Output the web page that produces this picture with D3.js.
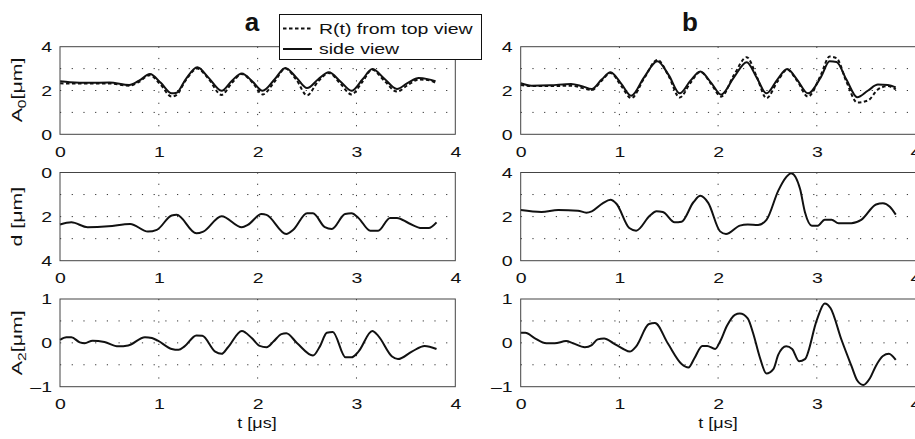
<!DOCTYPE html>
<html>
<head>
<meta charset="utf-8">
<script src="https://cdn.jsdelivr.net/npm/d3@7"></script>
<style>
  body { margin: 0; background: #fff; }
  text { font-family: "Liberation Sans", Arial, sans-serif; fill: #111; }
</style>
</head>
<body>
<script>
/* time axis ticks */
const xTicks = [0, 1, 2, 3, 4];
const xGrid = [1, 2, 3];

/* panel a, A0 : side view (solid) and R(t) from top view (dashed) */
const tA0a = [0, 0.1, 0.3, 0.5, 0.7, 0.8, 0.91, 1.02, 1.13, 1.18, 1.27, 1.39, 1.5, 1.635, 1.74, 1.84, 1.95, 2.05, 2.17, 2.28,
  2.39, 2.5, 2.61, 2.72, 2.84, 2.95, 3.06, 3.16, 3.28, 3.41, 3.52, 3.63, 3.72, 3.8];
const sideA0a = [2.42, 2.38, 2.35, 2.36, 2.25, 2.45, 2.75, 2.35, 1.87, 1.9, 2.5, 3.06, 2.6, 1.99, 2.45, 2.78, 2.4, 1.99, 2.5, 3.03,
  2.6, 2.11, 2.5, 2.83, 2.4, 1.99, 2.5, 2.98, 2.55, 2.07, 2.35, 2.57, 2.52, 2.42];
const topA0a = [2.33, 2.32, 2.32, 2.32, 2.22, 2.4, 2.7, 2.25, 1.72, 1.8, 2.45, 3.0, 2.55, 1.8, 2.35, 2.75, 2.35, 1.82, 2.4, 3.0,
  2.5, 1.78, 2.4, 2.8, 2.3, 1.82, 2.4, 2.95, 2.45, 1.95, 2.25, 2.5, 2.48, 2.35];

/* panel b, A0 */
const tA0b = [0, 0.11, 0.3, 0.51, 0.62, 0.72, 0.82, 0.91, 1.02, 1.12, 1.25, 1.385, 1.5, 1.61, 1.72, 1.82, 1.93, 2.03, 2.16, 2.29,
  2.39, 2.49, 2.6, 2.7, 2.8, 2.91, 3.04, 3.13, 3.2, 3.3, 3.41, 3.52, 3.62, 3.72, 3.8];
const sideA0b = [2.33, 2.22, 2.24, 2.3, 2.2, 2.07, 2.5, 2.83, 2.3, 1.76, 2.6, 3.33, 2.7, 1.87, 2.45, 2.87, 2.35, 1.81, 2.6, 3.29,
  2.6, 1.87, 2.5, 2.98, 2.5, 1.87, 2.6, 3.33, 3.3, 2.5, 1.69, 2.0, 2.27, 2.25, 2.14];
const topA0b = [2.25, 2.2, 2.2, 2.22, 2.12, 2.02, 2.45, 2.8, 2.2, 1.65, 2.55, 3.4, 2.65, 1.68, 2.35, 2.85, 2.3, 1.72, 2.7, 3.52,
  2.65, 1.65, 2.4, 2.95, 2.45, 1.72, 2.7, 3.55, 3.48, 2.4, 1.45, 1.55, 2.05, 2.2, 2.05];

/* panel a, d */
const tDa = [0, 0.115, 0.28, 0.49, 0.71, 0.89, 0.98, 1.13, 1.18, 1.38, 1.45, 1.635, 1.84, 1.9, 2.04, 2.09, 2.29, 2.36, 2.5, 2.56,
  2.68, 2.75, 2.885, 2.95, 3.02, 3.14, 3.22, 3.34, 3.41, 3.53, 3.66, 3.73, 3.81];
const dA = [2.36, 2.26, 2.48, 2.44, 2.33, 2.68, 2.6, 1.95, 1.92, 2.76, 2.68, 1.98, 2.48, 2.38, 1.88, 1.92, 2.79, 2.6, 1.85, 1.85,
  2.48, 2.56, 1.88, 1.85, 2.06, 2.64, 2.64, 2.06, 2.06, 2.3, 2.52, 2.52, 2.26];

/* panel b, d */
const tDb = [0, 0.21, 0.38, 0.58, 0.665, 0.72, 0.83, 0.91, 0.97, 1.1, 1.17, 1.31, 1.375, 1.44, 1.56, 1.63, 1.75, 1.82, 1.9, 2.02,
  2.08, 2.22, 2.3, 2.405, 2.49, 2.61, 2.69, 2.74, 2.83, 2.88, 2.95, 3.01, 3.08, 3.15, 3.22, 3.35, 3.45, 3.6, 3.67, 3.74, 3.8];
const dB = [2.3, 2.21, 2.3, 2.27, 2.18, 2.24, 2.6, 2.76, 2.58, 1.48, 1.36, 2.05, 2.24, 2.21, 1.74, 1.77, 2.65, 2.94, 2.62, 1.33,
  1.21, 1.59, 1.64, 1.62, 1.85, 3.18, 3.79, 3.97, 3.26, 2.2, 1.59, 1.59, 1.86, 1.86, 1.7, 1.7, 1.85, 2.55, 2.61, 2.45, 2.09];

/* panel a, A2 */
const tA2a = [0, 0.065, 0.115, 0.2, 0.25, 0.33, 0.45, 0.59, 0.69, 0.86, 0.93, 0.99, 1.13, 1.2, 1.26, 1.38, 1.44, 1.57, 1.635, 1.7,
  1.84, 1.94, 2.02, 2.09, 2.16, 2.24, 2.29, 2.4, 2.56, 2.63, 2.7, 2.76, 2.89, 2.95, 3.02, 3.16, 3.22, 3.36, 3.42, 3.56, 3.69, 3.81];
const a2A = [0.07, 0.13, 0.13, 0.01, -0.01, 0.05, 0.02, -0.08, -0.06, 0.13, 0.11, 0.05, -0.14, -0.16, -0.08, 0.17, 0.16, -0.2, -0.25, -0.1,
  0.27, 0.11, -0.07, -0.1, 0.03, 0.2, 0.22, -0.01, -0.29, -0.08, 0.23, 0.25, -0.33, -0.33, -0.2, 0.27, 0.16, -0.31, -0.37, -0.2, -0.07, -0.14];

/* panel b, A2 */
const tA2b = [0, 0.047, 0.14, 0.26, 0.345, 0.46, 0.53, 0.65, 0.72, 0.78, 0.845, 0.94, 1.04, 1.105, 1.17, 1.3, 1.36, 1.49, 1.63, 1.7,
  1.76, 1.84, 1.89, 1.97, 2.02, 2.09, 2.17, 2.22, 2.3, 2.355, 2.42, 2.49, 2.56, 2.61, 2.69, 2.75, 2.82, 2.88, 3.0, 3.08, 3.14,
  3.25, 3.35, 3.41, 3.47, 3.54, 3.6, 3.67, 3.73, 3.8];
const a2B = [0.23, 0.23, 0.11, -0.01, -0.01, 0.04, -0.01, -0.1, -0.05, 0.08, 0.1, -0.01, -0.14, -0.2, -0.08, 0.43, 0.45, -0.01, -0.48, -0.56,
  -0.35, -0.07, -0.07, -0.14, 0.03, 0.39, 0.64, 0.67, 0.56, 0.22, -0.31, -0.7, -0.6, -0.27, -0.08, -0.14, -0.42, -0.37, 0.52, 0.9, 0.79,
  0.07, -0.52, -0.86, -0.96, -0.8, -0.52, -0.3, -0.25, -0.39];

const width = 915, height = 439;
const cols = [{x0: 60, x1: 455.3}, {x0: 520.7, x1: 915.5}];
const rows = [{y0: 46.7, y1: 134.3}, {y0: 172.5, y1: 260.7}, {y0: 299, y1: 386.7}];
// the original lettering is drawn wide, so text is stretched along its baseline
const stretch = 1.3;

const svg = d3.select("body").append("svg")
  .attr("width", width)
  .attr("height", height);

const fmt = d => d < 0 ? "\u2013" + Math.abs(d) : String(d);

// move axis-made x/y into a transform so the text can be stretched
function widen(sel, sx) {
  sel.each(function() {
    const t = d3.select(this);
    const x = +t.attr("x") || 0, y = +t.attr("y") || 0;
    t.attr("x", null).attr("y", null)
      .attr("transform", "translate(" + x + "," + y + ") scale(" + sx + ",1)");
  });
}

function drawPanel(col, row, domain, ticks, grid, series) {
  const c = cols[col], r = rows[row];
  const x = d3.scaleLinear().domain([0, 4]).range([c.x0, c.x1]);
  const y = d3.scaleLinear().domain(domain).range([r.y1, r.y0]);
  const g = svg.append("g");

  // dotted grid
  g.selectAll(".gx").data(xGrid).enter().append("line")
    .attr("x1", d => x(d)).attr("x2", d => x(d))
    .attr("y1", r.y0).attr("y2", r.y1)
    .attr("stroke", "#333").attr("stroke-width", 1)
    .attr("stroke-dasharray", "1.2,10");
  g.selectAll(".gy").data(grid).enter().append("line")
    .attr("x1", c.x0).attr("x2", c.x1)
    .attr("y1", d => y(d)).attr("y2", d => y(d))
    .attr("stroke", "#333").attr("stroke-width", 1)
    .attr("stroke-dasharray", "1.2,10.5");

  // axes
  const ax = g.append("g")
    .attr("transform", "translate(0," + r.y1 + ")")
    .call(d3.axisBottom(x).tickValues(xTicks).tickSize(0).tickPadding(12).tickFormat(fmt))
    .call(a => a.select(".domain").remove());
  ax.selectAll("text").attr("font-size", 15).attr("fill", "#111")
    .style("font-family", "'Liberation Sans', Arial, sans-serif")
    .call(widen, stretch);
  const ay = g.append("g")
    .attr("transform", "translate(" + c.x0 + ",0)")
    .call(d3.axisLeft(y).tickValues(ticks).tickSize(0).tickPadding(8).tickFormat(fmt))
    .call(a => a.select(".domain").remove());
  ay.selectAll("text").attr("font-size", 15).attr("fill", "#111")
    .style("font-family", "'Liberation Sans', Arial, sans-serif")
    .call(widen, stretch);

  // lines
  series.forEach(s => {
    const pts = d3.zip(s.t, s.v);
    g.append("path")
      .datum(pts)
      .attr("fill", "none")
      .attr("stroke", "#111")
      .attr("stroke-width", 2)
      .attr("stroke-linejoin", "round")
      .attr("stroke-dasharray", s.dash ? "3.5,2.5" : null)
      .attr("d", d3.line().x(d => x(d[0])).y(d => y(d[1])).curve(d3.curveMonotoneX));
  });

  // frame
  g.append("rect")
    .attr("x", c.x0).attr("y", r.y0)
    .attr("width", c.x1 - c.x0).attr("height", r.y1 - r.y0)
    .attr("fill", "none").attr("stroke", "#444").attr("stroke-width", 1);
}

drawPanel(0, 0, [0, 4], [0, 2, 4], [1, 2, 3], [
  {t: tA0a, v: topA0a, dash: true}, {t: tA0a, v: sideA0a}]);
drawPanel(1, 0, [0, 4], [0, 2, 4], [1, 2, 3], [
  {t: tA0b, v: topA0b, dash: true}, {t: tA0b, v: sideA0b}]);
drawPanel(0, 1, [4, 0], [0, 2, 4], [1, 2, 3], [{t: tDa, v: dA}]);
drawPanel(1, 1, [0, 4], [0, 2, 4], [1, 2, 3], [{t: tDb, v: dB}]);
drawPanel(0, 2, [-1, 1], [-1, 0, 1], [-0.5, 0, 0.5], [{t: tA2a, v: a2A}]);
drawPanel(1, 2, [-1, 1], [-1, 0, 1], [-0.5, 0, 0.5], [{t: tA2b, v: a2B}]);

// y labels (rotated)
function yLabel(cy, main, sub, rest) {
  const t = svg.append("text")
    .attr("transform", "translate(22," + cy + ") rotate(-90) scale(1.42,1)")
    .attr("text-anchor", "middle")
    .attr("font-size", 15);
  t.append("tspan").text(main);
  if (sub) {
    t.append("tspan").attr("font-size", 11).attr("dy", 4).text(sub);
    t.append("tspan").attr("dy", -4).text(rest);
  } else {
    t.append("tspan").text(rest);
  }
}
yLabel(90, "A", "0", "[\u03bcm]");
yLabel(216.6, "d", null, " [\u03bcm]");
yLabel(342.8, "A", "2", "[\u03bcm]");

// x labels
[257, 718].forEach(cx => {
  svg.append("text")
    .attr("transform", "translate(" + cx + ",428) scale(1.2,1)")
    .attr("text-anchor", "middle")
    .attr("font-size", 15)
    .text("t [\u03bcs]");
});

// panel titles
svg.append("text").attr("x", 252).attr("y", 31).attr("text-anchor", "middle")
  .attr("font-size", 26).attr("font-weight", "bold").text("a");
svg.append("text").attr("x", 690).attr("y", 31).attr("text-anchor", "middle")
  .attr("font-size", 26).attr("font-weight", "bold").text("b");

// legend
const leg = svg.append("g");
leg.append("rect")
  .attr("x", 279.5).attr("y", 14.5).attr("width", 202).attr("height", 45)
  .attr("fill", "#fff").attr("stroke", "#111").attr("stroke-width", 1);
leg.append("line").attr("x1", 283).attr("x2", 312).attr("y1", 28.5).attr("y2", 28.5)
  .attr("stroke", "#111").attr("stroke-width", 2).attr("stroke-dasharray", "3.5,2.5");
leg.append("line").attr("x1", 283).attr("x2", 312).attr("y1", 49).attr("y2", 49)
  .attr("stroke", "#111").attr("stroke-width", 2);
leg.append("text").attr("transform", "translate(319,33.5) scale(1.3,1)")
  .attr("font-size", 15).text("R(t) from top view");
leg.append("text").attr("transform", "translate(319,54) scale(1.3,1)")
  .attr("font-size", 15).text("side view");
</script>
</body>
</html>
